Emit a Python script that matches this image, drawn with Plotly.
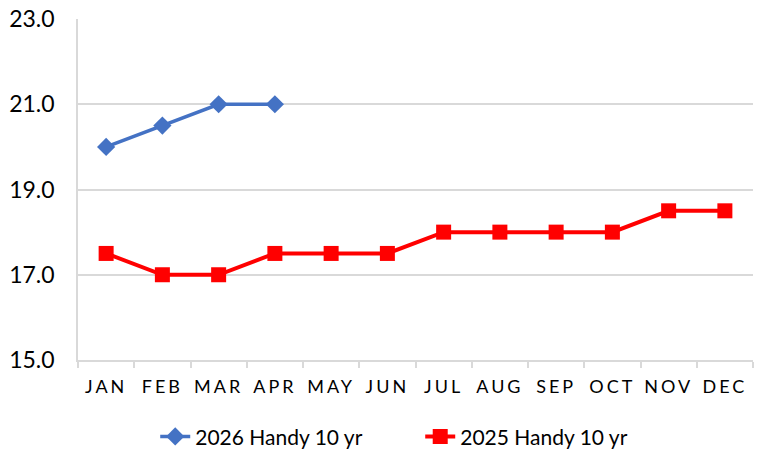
import plotly.graph_objects as go

months = ["JAN", "FEB", "MAR", "APR", "MAY", "JUN", "JUL", "AUG", "SEP", "OCT", "NOV", "DEC"]
s2026_name = "2026 Handy 10 yr"
s2026 = [20.0, 20.5, 21.0, 21.0]
s2025_name = "2025 Handy 10 yr"
s2025 = [17.5, 17.0, 17.0, 17.5, 17.5, 17.5, 18.0, 18.0, 18.0, 18.0, 18.5, 18.5]
y_ticks = [15, 17, 19, 21, 23]

fig = go.Figure()
fig.add_trace(go.Scatter(
    x=months[:len(s2026)], y=s2026, name=s2026_name, mode="lines+markers",
    line=dict(color="#4472C4", width=3.5),
    marker=dict(symbol="diamond", size=14, color="#4472C4"),
))
fig.add_trace(go.Scatter(
    x=months, y=s2025, name=s2025_name, mode="lines+markers",
    line=dict(color="#FF0000", width=4),
    marker=dict(symbol="square", size=15, color="#FF0000"),
))

font_family = "Lato, Carlito, 'Open Sans', sans-serif"
fig.update_layout(
    width=759, height=452,
    margin=dict(l=78, r=6, t=19, b=92, autoexpand=False),
    paper_bgcolor="white", plot_bgcolor="white",
    font=dict(family=font_family, color="#000000"),
    showlegend=True,
    legend=dict(orientation="h", x=0.507, xanchor="center", y=-0.165, yanchor="top",
                font=dict(size=21, family=font_family), entrywidth=220, traceorder="normal"),
    xaxis=dict(
        type="category", categoryorder="array", categoryarray=months,
        range=[-0.5, 11.5], automargin=False,
        showgrid=False, showline=True, linecolor="#D9D9D9", linewidth=1.5,
        ticks="outside", tickson="boundaries", ticklen=6, tickcolor="#D9D9D9", tickwidth=1.5,
        ticklabelstandoff=10,
        tickfont=dict(size=18, family=font_family),
    ),
    yaxis=dict(
        range=[15, 23], tickvals=y_ticks, ticktext=[f"{v:.1f}" for v in y_ticks],
        automargin=False,
        showgrid=True, gridcolor="#D9D9D9", gridwidth=1.5,
        showline=True, linecolor="#D9D9D9", linewidth=1.5,
        zeroline=False, ticks="", ticklen=0, ticklabelstandoff=17,
        tickfont=dict(size=23, family=font_family),
    ),
)
post = """
var s = document.createElement('style');
s.innerHTML = 'body { margin: 0; } .xtick text { letter-spacing: 3px; }';
document.head.appendChild(s);
"""
fig.write_html("out.html", post_script=post, config={"displayModeBar": False})
